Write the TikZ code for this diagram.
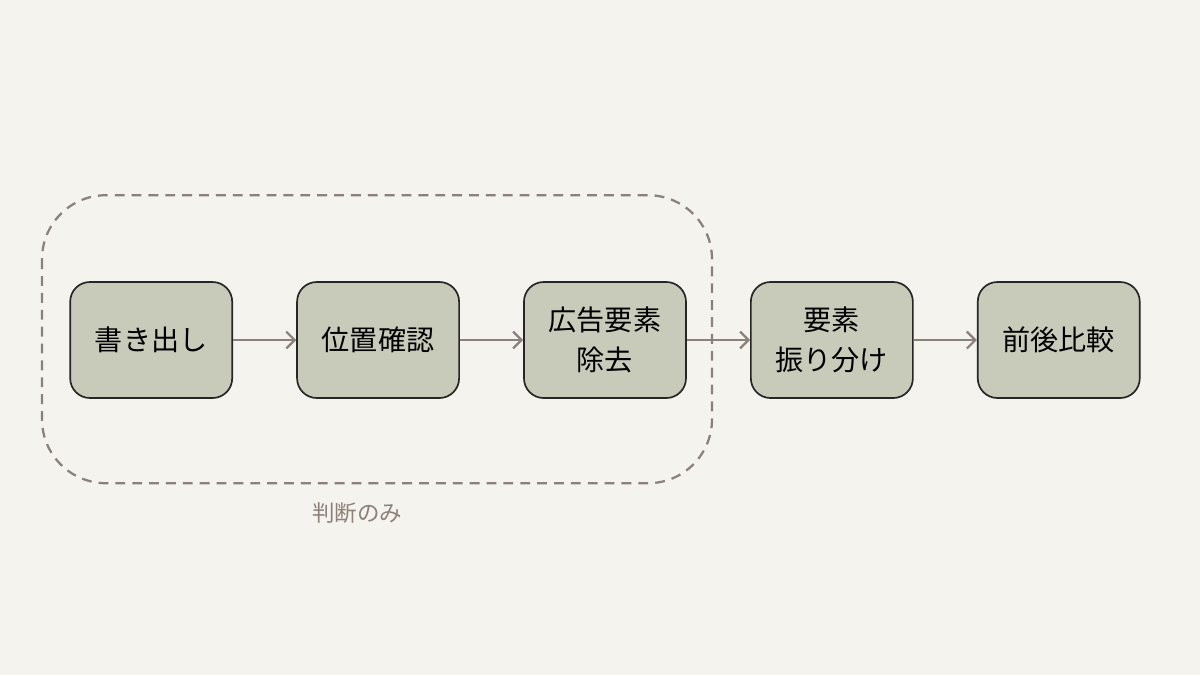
\documentclass[tikz,border=0pt]{standalone}
\usepackage{fontspec}
\newfontfamily\cjk{Noto Sans CJK JP}
\usetikzlibrary{positioning,arrows.meta}
\definecolor{paper}{HTML}{F4F3EE}
\definecolor{boxfill}{HTML}{C8CABA}
\definecolor{arrowc}{HTML}{8C807A}
\begin{document}
\begin{tikzpicture}[stage/.style={draw=black!85, line width=1.2pt, fill=boxfill, rounded corners=14pt,
		minimum width=4.05cm, minimum height=2.9cm, align=center, font=\cjk\fontsize{20}{28}\selectfont},
	flow/.style={-{Straight Barb[length=6pt,width=12pt]}, draw=arrowc, line width=1.6pt}, node distance=1.58cm]
		\fill[paper] (0,0) rectangle (30,-16.875);
		\useasboundingbox (0,0) rectangle (30,-16.875);
		\draw[arrowc, line width=1.6pt, dash pattern=on 7pt off 5pt, rounded corners=1.6cm] (1.05,-4.88) rectangle (17.8,-12.08);
		\node [stage] (A) at (3.78,-8.5) {書き出し};
		\node [stage, right=of A] (B) {位置確認};
		\node [stage, right=of B] (C) {広告要素\\除去};
		\node [stage, right=of C] (D) {要素\\振り分け};
		\node [stage, right=of D] (E) {前後比較};
		\node [text=arrowc, font=\cjk\fontsize{16}{20}\selectfont] (L) at (8.93,-12.83) {判断のみ};

		\draw[flow] (A) -- (B);
		\draw[flow] (B) -- (C);
		\draw[flow] (C) -- (D);
		\draw[flow] (D) -- (E);
	\end{tikzpicture}
\end{document}
